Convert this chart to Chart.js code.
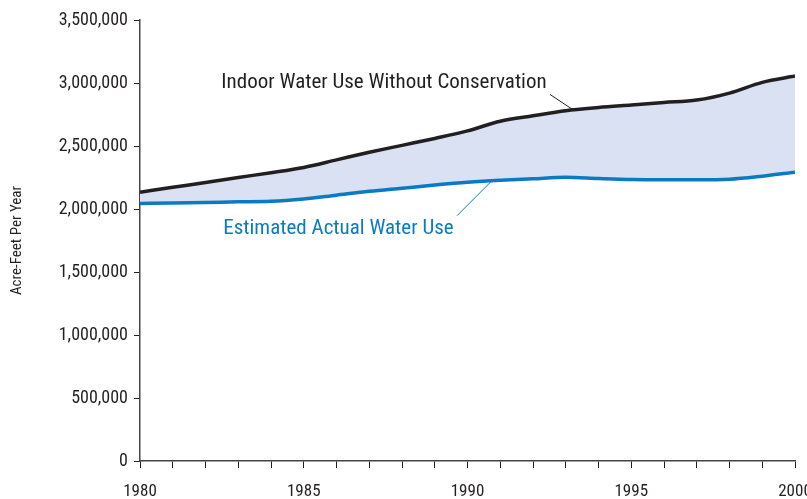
<!DOCTYPE html>
<html>
<head>
<meta charset="utf-8">
<script src="https://cdn.jsdelivr.net/npm/chart.js@4"></script>
<style>
  html, body { margin: 0; padding: 0; background: #fff; }
  #wrap { width: 807px; height: 499px; }
</style>
</head>
<body>
<div id="wrap"><canvas id="waterChart" width="807" height="499"></canvas></div>
<script>
// data
const years = [1980, 1981, 1982, 1983, 1984, 1985, 1986, 1987, 1988, 1989, 1990,
               1991, 1992, 1993, 1994, 1995, 1996, 1997, 1998, 1999, 2000];
const withoutConservation = [2133000, 2172000, 2210000, 2250000, 2288000, 2330000, 2390000,
                             2450000, 2505000, 2560000, 2620000, 2697000, 2740000, 2780000,
                             2805000, 2825000, 2845000, 2865000, 2920000, 3005000, 3055000];
const actualUse = [2043000, 2048000, 2052000, 2057000, 2061000, 2080000, 2110000, 2140000,
                   2165000, 2190000, 2212000, 2228000, 2240000, 2252000, 2242000, 2234000,
                   2232000, 2232000, 2236000, 2260000, 2292000];
const yTicks = [0, 500000, 1000000, 1500000, 2000000, 2500000, 3000000, 3500000];
const xLabels = [1980, 1985, 1990, 1995, 2000];

const FONT = "'Liberation Sans Narrow', 'Roboto Condensed', 'Arial Narrow', 'Liberation Sans', sans-serif";
const INK = '#231f20';
const BLUE = '#0a7bc2';

// callouts, anchored in data units
const callouts = [
  { text: 'Indoor Water Use Without Conservation', color: INK, tx: 1987.45, ty: 3004000,
    from: [1992.52, 2909000], to: [1993.21, 2790000] },
  { text: 'Estimated Actual Water Use', color: BLUE, tx: 1986.06, ty: 1844000,
    from: [1989.68, 1947000], to: [1990.72, 2218000] }
];

const calloutPlugin = {
  id: 'callouts',
  afterDatasetsDraw(chart) {
    const { ctx, scales: { x, y } } = chart;
    ctx.save();
    ctx.font = '21px ' + FONT;
    ctx.textAlign = 'center';
    ctx.textBaseline = 'middle';
    callouts.forEach(c => {
      ctx.fillStyle = c.color;
      ctx.fillText(c.text, x.getPixelForValue(c.tx), y.getPixelForValue(c.ty));
      ctx.strokeStyle = c.color;
      ctx.lineWidth = 1;
      ctx.beginPath();
      ctx.moveTo(x.getPixelForValue(c.from[0]), y.getPixelForValue(c.from[1]));
      ctx.lineTo(x.getPixelForValue(c.to[0]), y.getPixelForValue(c.to[1]));
      ctx.stroke();
    });
    ctx.restore();
  }
};

const toPoints = arr => arr.map((v, i) => ({ x: years[i], y: v }));

new Chart(document.getElementById('waterChart'), {
  type: 'line',
  data: {
    datasets: [
      {
        label: 'Estimated Actual Water Use',
        data: toPoints(actualUse),
        borderColor: BLUE,
        borderWidth: 3.5,
        pointRadius: 0,
        cubicInterpolationMode: 'monotone',
        fill: false,
        order: 1
      },
      {
        label: 'Indoor Water Use Without Conservation',
        data: toPoints(withoutConservation),
        borderColor: INK,
        borderWidth: 3.5,
        pointRadius: 0,
        cubicInterpolationMode: 'monotone',
        fill: { target: 0 },
        backgroundColor: '#d9e1f2',
        order: 2
      }
    ]
  },
  options: {
    responsive: false,
    animation: false,
    layout: { padding: { top: 20, right: 12, left: 0, bottom: 0 } },
    plugins: {
      legend: { display: false },
      tooltip: { enabled: false }
    },
    scales: {
      x: {
        type: 'linear',
        min: 1980,
        max: 2000,
        afterFit: s => { s.height = 38; s.paddingLeft = 0; s.paddingRight = 0; },
        afterBuildTicks: s => { s.ticks = years.map(v => ({ value: v })); },
        ticks: {
          autoSkip: false,
          maxRotation: 0,
          padding: 14,
          color: INK,
          font: { family: FONT, size: 17 },
          callback: v => xLabels.includes(v) ? String(v) : ''
        },
        grid: { drawOnChartArea: false, drawTicks: true, tickLength: 7, color: INK, lineWidth: 1 },
        border: { color: '#444', width: 1.5 }
      },
      y: {
        min: 0,
        max: 3500000,
        afterFit: s => { s.width = 140; s.paddingTop = 0; s.paddingBottom = 0; },
        afterBuildTicks: s => { s.ticks = yTicks.map(v => ({ value: v })); },
        ticks: {
          padding: 6,
          color: INK,
          font: { family: FONT, size: 18 },
          callback: v => v.toLocaleString('en-US')
        },
        grid: { drawOnChartArea: false, drawTicks: true, tickLength: 6, color: INK, lineWidth: 1 },
        border: { color: '#444', width: 1.5 },
        title: {
          display: true,
          text: 'Acre-Feet Per Year',
          color: INK,
          font: { family: FONT, size: 15 },
          padding: { top: 8, bottom: 0 }
        }
      }
    }
  },
  plugins: [calloutPlugin]
});
</script>
</body>
</html>
